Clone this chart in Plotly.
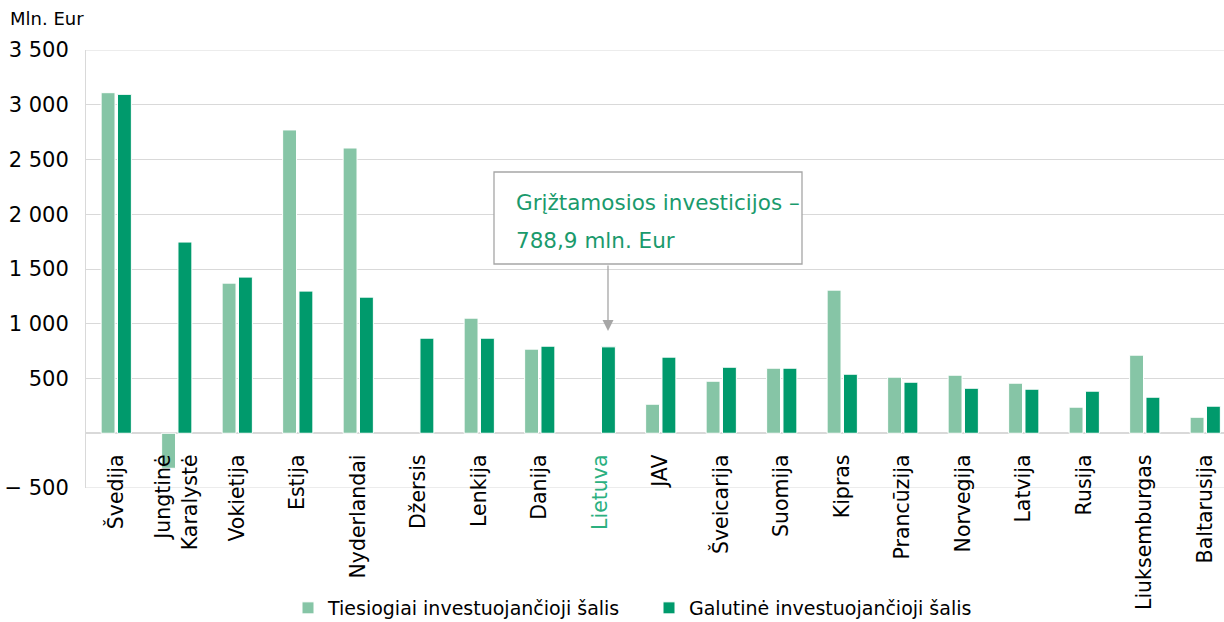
import plotly.graph_objects as go

categories = ["Švedija", "Jungtinė<br>Karalystė", "Vokietija", "Estija", "Nyderlandai", "Džersis",
              "Lenkija", "Danija", "Lietuva", "JAV", "Šveicarija", "Suomija", "Kipras",
              "Prancūzija", "Norvegija", "Latvija", "Rusija", "Liuksemburgas", "Baltarusija"]
direct = [3110, -320, 1371, 2770, 2605, None, 1051, 768, None, 265, 475, 594, 1307,
          512, 530, 457, 238, 713, 146]
ultimate = [3095, 1746, 1426, 1298, 1243, 868, 868, 795, 788.9, 695, 603, 594, 539,
            466, 411, 402, 384, 329, 247]
series_names = ["Tiesiogiai investuojančioji šalis", "Galutinė investuojančioji šalis"]
ytick_vals = [-500, 500, 1000, 1500, 2000, 2500, 3000, 3500]
ytick_text = ["− 500", "500", "1 000", "1 500", "2 000", "2 500", "3 000", "3 500"]

LIGHT = "#86c5a6"
DARK = "#009a6c"
TXTGREEN = "#1a9a6c"
GRID = "#d9d9d9"
FONT = "DejaVu Sans"

W, H = 1224, 622
ML, MR, MT, MB = 86, 0, 50, 134
PW, PH = W - ML - MR, H - MT - MB


def px_x(p):
    return (p - ML) / PW


def px_y(p):
    return (H - MB - p) / PH


x = list(range(len(categories)))
ticktext = [f"<span style='color:#2bb07f'>{c}</span>" if c == "Lietuva" else c for c in categories]

fig = go.Figure()
fig.add_trace(go.Bar(x=x, y=direct, name=series_names[0],
                     marker=dict(color=LIGHT, line=dict(color="white", width=1))))
fig.add_trace(go.Bar(x=x, y=ultimate, name=series_names[1],
                     marker=dict(color=DARK, line=dict(color="white", width=1))))

ymin, ymax = -500, 3500
zero_frac = (0 - ymin) / (ymax - ymin)

fig.update_layout(
    width=W, height=H,
    margin=dict(l=ML, r=MR, t=MT, b=MB, autoexpand=False),
    paper_bgcolor="white", plot_bgcolor="white",
    barmode="group", bargap=0.46, bargroupgap=0.15,
    font=dict(family=FONT, size=16, color="black"),
    showlegend=True,
    legend=dict(orientation="h", x=px_x(288), xanchor="left", y=px_y(608), yanchor="middle",
                font=dict(size=19, family=FONT), itemwidth=30, entrywidth=316,
                traceorder="normal", bgcolor="rgba(0,0,0,0)"),
    xaxis=dict(tickmode="array", tickvals=x, ticktext=ticktext, tickangle=-90,
               range=[-0.5, 18.31], anchor="free", position=zero_frac,
               showline=False, showgrid=False, ticks="outside", ticklen=12,
               tickcolor="rgba(0,0,0,0)",
               tickfont=dict(size=20.5, family=FONT), automargin=False),
    yaxis=dict(range=[ymin, ymax], tickmode="array", tickvals=ytick_vals, ticktext=ytick_text,
               showgrid=True, gridcolor=GRID, gridwidth=1,
               showline=True, linecolor=GRID, linewidth=1,
               zeroline=True, zerolinecolor=GRID, zerolinewidth=2,
               ticks="", ticklabelstandoff=12,
               tickfont=dict(size=21, family=FONT), automargin=False),
)

# gridlines at the axis range edges
for yv in (ymin, ymax):
    fig.add_shape(type="line", xref="paper", yref="y", x0=0, x1=1, y0=yv, y1=yv,
                  line=dict(color=GRID, width=1), layer="below")

fig.add_annotation(xref="paper", yref="paper", x=px_x(8), y=px_y(18), xanchor="left", yanchor="middle",
                   text="Mln. Eur", showarrow=False, font=dict(size=18, family=FONT, color="black"))

# Callout box for Lietuva
fig.add_shape(type="rect", xref="paper", yref="paper",
              x0=px_x(494), x1=px_x(802), y0=px_y(264), y1=px_y(172),
              line=dict(color="#a6a6a6", width=1.3), fillcolor="white", layer="above")
fig.add_annotation(xref="paper", yref="paper", x=px_x(514), y=px_y(202), xanchor="left", yanchor="middle",
                   text="Grįžtamosios investicijos –", showarrow=False,
                   font=dict(size=21.5, family=FONT, color=TXTGREEN))
fig.add_annotation(xref="paper", yref="paper", x=px_x(514), y=px_y(240), xanchor="left", yanchor="middle",
                   text="788,9 mln. Eur", showarrow=False,
                   font=dict(size=21.5, family=FONT, color=TXTGREEN))
fig.add_annotation(xref="paper", yref="paper", x=px_x(608), y=px_y(331), ax=0, ay=-67,
                   text="", showarrow=True, arrowhead=2, arrowsize=1.7, arrowwidth=1.3,
                   arrowcolor="#a6a6a6")

fig.write_html("out.html", config={"displayModeBar": False},
               post_script="document.body.style.margin='0';")
